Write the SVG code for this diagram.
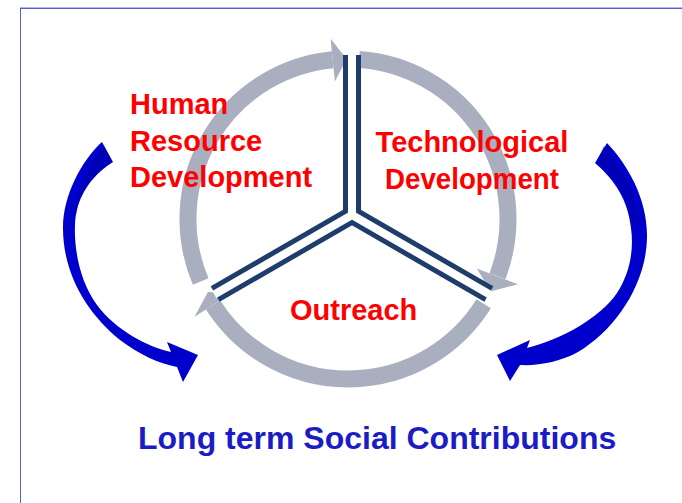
<svg xmlns="http://www.w3.org/2000/svg" width="682" height="503" viewBox="0 0 682 503">
<style>
.ring{fill:none;stroke:#a9afbf;stroke-width:17}
.head{fill:#a9afbf}
.spk{stroke:#1f3d6b;stroke-width:18;stroke-linecap:butt;fill:none}
.spw{stroke:#ffffff;stroke-width:8;stroke-linecap:butt;fill:none}
.lbl{font-family:"Liberation Sans",Arial,sans-serif;font-weight:bold;font-size:29px;fill:#ff0000}
.big{font-family:"Liberation Sans",Arial,sans-serif;font-weight:bold;font-size:32px;fill:#1c1cc4}
.barrow{fill:#0000cc}
.bshade{fill:#0000a8}
</style>
<rect x="0" y="0" width="682" height="503" fill="#ffffff"/>
<g id="frame">
<line x1="20" y1="7.5" x2="682" y2="7.5" stroke="#b4b4f0" stroke-width="1"/>
<line x1="20" y1="8.5" x2="682" y2="8.5" stroke="#5a5ae0" stroke-width="1"/>
<line x1="20.5" y1="8" x2="20.5" y2="503" stroke="#5a5ae0" stroke-width="1"/>
</g>
<g id="cycle">
<path class="ring" d="M200.7,281.5 A160,160 0 0 1 332.7,59.7"/>
<polygon class="head" points="330.6,38.8 346.6,59 334.9,81.6"/>
<path class="ring" d="M359.2,59.4 A160,160 0 0 1 497.4,276.3"/>
<polygon class="head" points="517.9,284.2 490.6,291.6 476.8,268.4"/>
<path class="ring" d="M483.7,303.8 A160,160 0 0 1 213.1,305"/>
<polygon class="head" points="194.5,316.8 207.9,291.9 231.6,293.2"/>
</g>
<g id="spokes">
<line class="spk" x1="352" y1="215" x2="352" y2="55"/>
<line class="spk" x1="352" y1="215" x2="488.8" y2="294"/>
<line class="spk" x1="352" y1="215" x2="215.2" y2="294"/>
<line class="spw" x1="352" y1="215" x2="352" y2="54"/>
<line class="spw" x1="352" y1="215" x2="489.7" y2="294.5"/>
<line class="spw" x1="352" y1="215" x2="214.3" y2="294.5"/>
</g>
<g id="arrow-left">
<path class="barrow" d="M102,142 C82,160 63,195 63,228 C63,275 88,314 120,340 C140,355 158,363 177,367 L183,382 L198,355 L167,342 L171,352 C150,348 115,330 97,305 C80,282 74,250 75,225 C76,200 88,178 113,162 Z"/>
<path class="bshade" opacity="0.6" d="M104,146 C92,158 80,180 74,215 L76,215 C78,195 90,176 112,161 Z"/>
</g>
<g id="arrow-right">
<path class="barrow" d="M607,143 C628,165 648,200 647,238 C646,285 615,330 578,352 C560,362 538,366 520,365 L510,381 L497,355 L530,340 L527,348 C560,340 600,318 617,293 C630,273 634,250 631,228 C628,200 615,180 595,163 Z"/>
<path class="bshade" opacity="0.6" d="M604,146 C622,166 636,190 640,225 L633,225 C630,200 618,180 597,161 Z"/>
</g>
<g id="node-hrd">
<text class="lbl" x="130" y="114">Human</text>
<text class="lbl" x="130" y="151">Resource</text>
<text class="lbl" x="130" y="187">Development</text>
</g>
<g id="node-tech">
<text class="lbl" x="472" y="152" text-anchor="middle">Technological</text>
<text class="lbl" x="385" y="189" textLength="174" lengthAdjust="spacingAndGlyphs">Development</text>
</g>
<g id="node-outreach">
<text class="lbl" x="290" y="320">Outreach</text>
</g>
<g id="node-social">
<text class="big" x="138" y="449">Long term Social Contributions</text>
</g>
</svg>
